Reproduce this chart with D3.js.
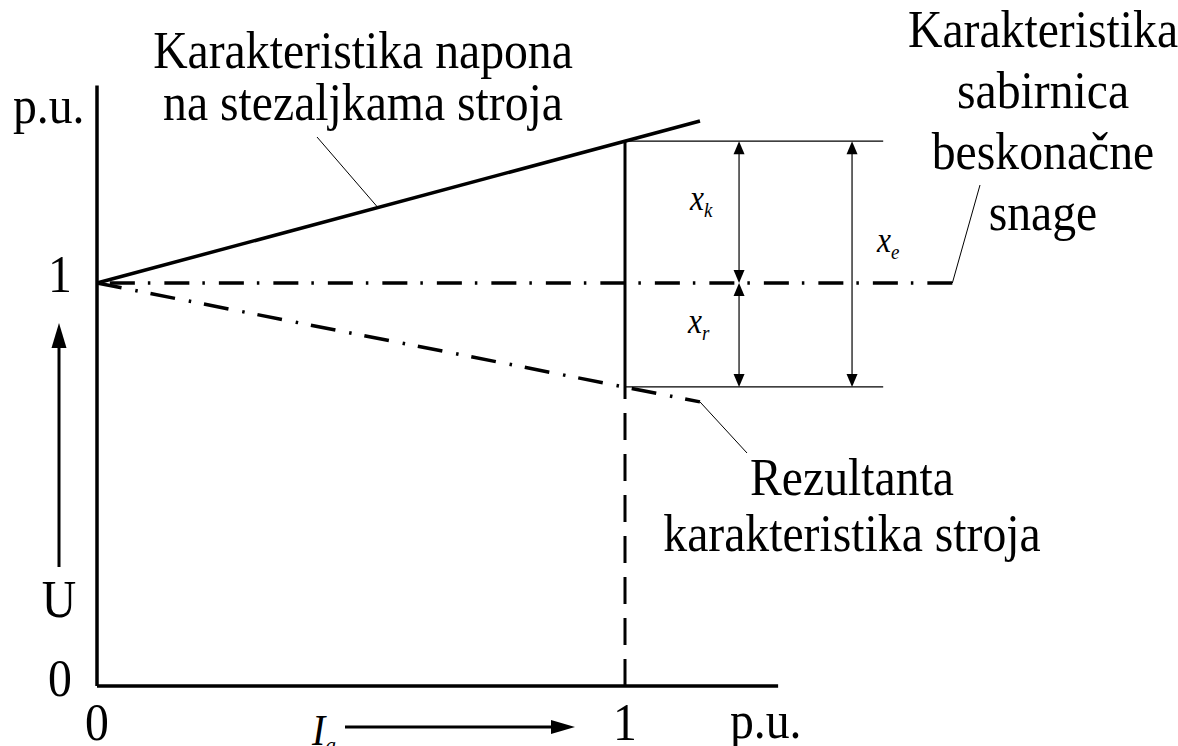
<!DOCTYPE html>
<html>
<head>
<meta charset="utf-8">
<script src="https://cdn.jsdelivr.net/npm/d3@7"></script>
<style>
  html, body { margin: 0; padding: 0; background: #fff; }
  svg { display: block; }
</style>
</head>
<body>
<div class="chart"></div>
<script>
const width = 1178;
const height = 746;
const fontFamily = "'Liberation Serif', 'Times New Roman', Times, serif";

// axis ticks (per unit)
const xTickValues = [0, 1];
const yTickValues = [0, 1];
const xAxisMax = 1.29;
const yAxisMax = 1.49;

// characteristics (I in p.u., U in p.u.)
const terminalVoltage = [{ i: 0, u: 1 }, { i: 1.142, u: 1.402 }];
const resultant = [{ i: 0, u: 1 }, { i: 1.142, u: 0.705 }];
const infiniteBus = [{ i: 1.62, u: 1 }, { i: 0, u: 1 }];

// rated current and the voltages there
const ratedCurrent = 1;
const uTerminalRated = 1.352;
const uResultantRated = 0.742;
const dimLineEnd = 1.489;

// dimension arrows: x position and the two ends
const dimArrows = [
   { name: "x", sub: "k", i: 1.216, from: uTerminalRated, to: 1 },
   { name: "x", sub: "r", i: 1.216, from: 1, to: uResultantRated },
   { name: "x", sub: "e", i: 1.43, from: uTerminalRated, to: uResultantRated }
];

// label texts
const terminalLabel = ["Karakteristika napona", "na stezaljkama stroja"];
const busLabel = ["Karakteristika", "sabirnica", "beskonačne", "snage"];
const resultantLabel = ["Rezultanta", "karakteristika stroja"];

const x = d3.scaleLinear().domain([0, 1]).range([97, 625]);
const y = d3.scaleLinear().domain([0, 1]).range([686, 283]);

const svg = d3.select(".chart")
   .append("svg")
   .attr("width", width)
   .attr("height", height);

const line = d3.line().x((d) => x(d.i)).y((d) => y(d.u));

function label(px, py, str, anchor, size, italic) {
   return svg.append("text")
      .attr("transform", `translate(${px},${py}) scale(0.9,1)`)
      .attr("text-anchor", anchor || "middle")
      .attr("fill", "#000")
      .style("font-family", fontFamily)
      .style("font-size", (size || 53) + "px")
      .style("font-style", italic ? "italic" : "normal")
      .text(str);
}

function arrowHead(tx, ty, dx, dy, len, half) {
   // tip at (tx,ty), pointing in direction (dx,dy)
   const bx = tx - dx * len, by = ty - dy * len;
   const px = -dy * half, py = dx * half;
   svg.append("path")
      .attr("d", `M${tx},${ty}L${bx + px},${by + py}L${bx - px},${by - py}Z`)
      .attr("fill", "#000");
}

function seg(x1, y1, x2, y2, w, dash) {
   return svg.append("line")
      .attr("x1", x1).attr("y1", y1).attr("x2", x2).attr("y2", y2)
      .attr("stroke", "#000")
      .attr("stroke-width", w)
      .attr("stroke-dasharray", dash || null);
}

// Axes
seg(x(0), y(0), x(xAxisMax), y(0), 3.5);
seg(x(0), y(0), x(0), y(yAxisMax), 3.5);

// Tick labels
xTickValues.forEach((v) => label(x(v), 740, String(v), "middle", 53));
yTickValues.forEach((v) => label(60, y(v) + (v === 0 ? 10 : 9), String(v), "middle", 53));
label(13, 123, "p.u.", "start", 53);
label(730, 738, "p.u.", "start", 53);

// U arrow
label(59, 617, "U", "middle", 53);
seg(59, 567, 59, 340, 3);
arrowHead(59, 323, 0, -1, 25, 7.5);

// I_a arrow
const ia = label(312, 745, "I", "start", 44, true);
ia.append("tspan").attr("dy", 8).style("font-size", "24px").text("a");
seg(345, 727, 560, 727, 3);
arrowHead(575, 727, 1, 0, 24, 7);

// Characteristic lines
const dashDot = "25,14,2.5,13";
svg.append("path").datum(infiniteBus).attr("d", line)
   .attr("fill", "none").attr("stroke", "#000").attr("stroke-width", 3.5)
   .attr("stroke-dasharray", dashDot);
svg.append("path").datum(resultant).attr("d", line)
   .attr("fill", "none").attr("stroke", "#000").attr("stroke-width", 3.5)
   .attr("stroke-dasharray", dashDot);
svg.append("path").datum(terminalVoltage).attr("d", line)
   .attr("fill", "none").attr("stroke", "#000").attr("stroke-width", 3.5);

// Rated current vertical: solid between characteristics, dashed below
seg(x(ratedCurrent), y(uTerminalRated), x(ratedCurrent), y(uResultantRated), 3);
seg(x(ratedCurrent), y(0), x(ratedCurrent), y(uResultantRated), 3, "27,14");

// Dimension lines
seg(x(ratedCurrent), y(uTerminalRated), x(dimLineEnd), y(uTerminalRated), 1.2);
seg(x(ratedCurrent), y(uResultantRated), x(dimLineEnd), y(uResultantRated), 1.2);

dimArrows.forEach((d) => {
   const px = x(d.i), y1 = y(d.from), y2 = y(d.to);
   seg(px, y1 + 6, px, y2 - 6, 1.2);
   arrowHead(px, y1, 0, -1, 13, 5.5);
   arrowHead(px, y2, 0, 1, 13, 5.5);
});

const sub = [
   { px: 690, py: 210 },
   { px: 688, py: 333 },
   { px: 877, py: 252 }
];
dimArrows.forEach((d, k) => {
   const t = label(sub[k].px, sub[k].py, d.name, "start", 35, true);
   t.append("tspan").attr("dy", 7).style("font-size", "21px").text(d.sub);
});

// Leader lines
const leadI = 0.532;
seg(317, 137, x(leadI), y(1 + 0.352 * leadI), 1);
seg(x(infiniteBus[0].i), y(1), 980, 185, 1);
seg(x(resultant[1].i), y(resultant[1].u), 747, 453, 1);

// Annotations
terminalLabel.forEach((s, k) => label(363, 68 + k * 52, s));
busLabel.forEach((s, k) => label(1043, 47 + k * 61, s));
resultantLabel.forEach((s, k) => label(852, 495 + k * 56, s));
</script>
</body>
</html>
